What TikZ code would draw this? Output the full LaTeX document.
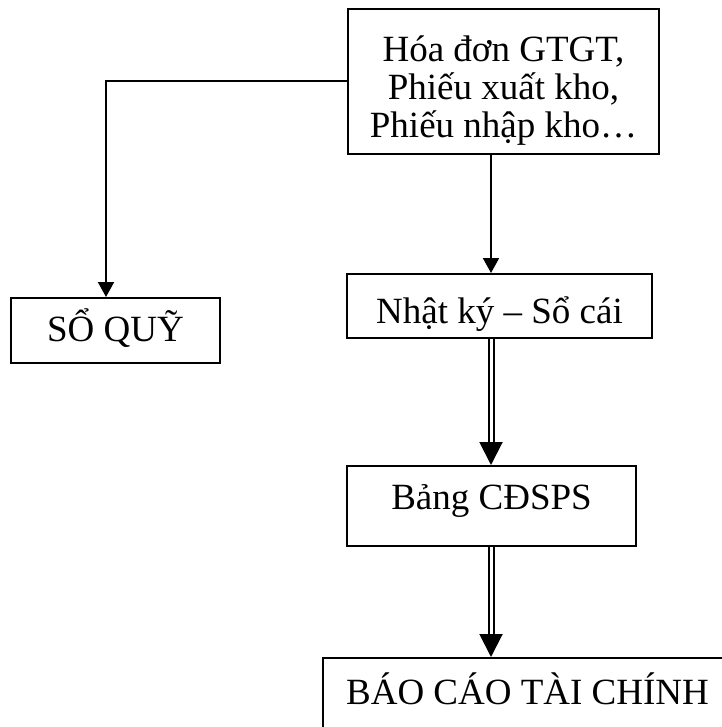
\documentclass[tikz,border=0pt]{standalone}
\usepackage{fontspec}
\setmainfont{Liberation Serif}
\usetikzlibrary{arrows.meta,calc}
\begin{document}
\begin{tikzpicture}[x=1pt,y=-1pt,
  box/.style={draw, line width=2pt, anchor=north west, inner xsep=0pt, inner ysep=0pt,
    align=center, font=\fontsize{37}{38}\selectfont},
  link/.style={line width=2pt, -{Triangle[width=16pt,length=15pt]}},
  dbl/.style={double, line width=2pt, double distance=3pt},
  bigtip/.style={line width=2pt, -{Triangle[width=23pt,length=23pt]}}]
\useasboundingbox (0,0) rectangle (721,727);

% boxes (text height is measured to the baseline of the last line)
\node[box, minimum width=311pt, text height=129pt, text depth=16pt] (src) at (347,8)
  {Hóa đơn GTGT,\\Phiếu xuất kho,\\Phiếu nhập kho…};
\node[box, minimum width=209pt, text height=43pt, text depth=22pt] (quy) at (10,297) {SỔ QUỸ};
\node[box, minimum width=305pt, text height=49pt, text depth=15pt] (nk) at (346,273) {Nhật ký – Sổ cái};
\node[box, minimum width=289pt, text height=43pt, text depth=37pt] (bang) at (346,465) {Bảng CĐSPS};
\node[box, minimum width=409pt, text height=46pt, text depth=60pt] (bctc) at (322,657) {BÁO CÁO TÀI CHÍNH};

% columns of the connectors
\coordinate (kx) at (106,0);
\coordinate (ax) at (491,0);

% connectors
\draw[link] (src.west) -| (quy.north -| kx);
\draw[link] (src.south -| ax) -- (nk.north -| ax);
\draw[dbl] (nk.south -| ax) -- ($(bang.north -| ax)+(0,-21)$);
\draw[bigtip] ($(bang.north -| ax)+(0,-23)$) -- (bang.north -| ax);
\draw[dbl] (bang.south -| ax) -- ($(bctc.north -| ax)+(0,-21)$);
\draw[bigtip] ($(bctc.north -| ax)+(0,-23)$) -- (bctc.north -| ax);
\end{tikzpicture}
\end{document}
